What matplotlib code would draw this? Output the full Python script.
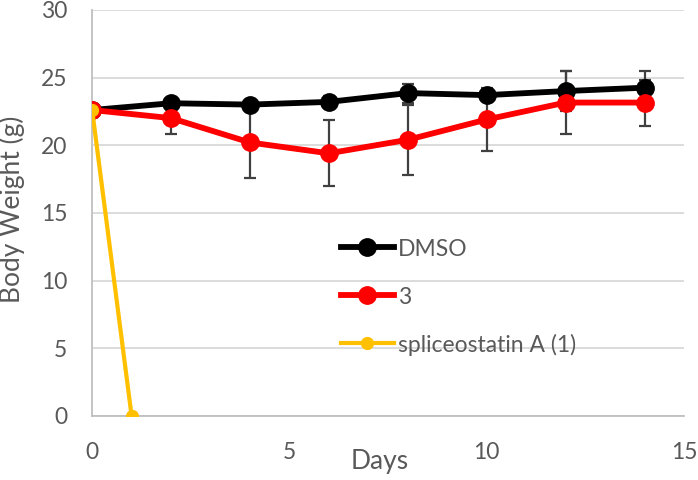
import matplotlib
matplotlib.use("Agg")
import matplotlib.pyplot as plt

days = [0, 2, 4, 6, 8, 10, 12, 14]
dmso = [22.6, 23.1, 23.0, 23.2, 23.85, 23.7, 24.0, 24.25]
dmso_err = [0.0, 0.3, 0.3, 0.4, 0.7, 0.3, 1.45, 1.2]
cmp3 = [22.6, 22.0, 20.2, 19.4, 20.4, 21.9, 23.15, 23.15]
cmp3_err = [0.0, 1.2, 2.6, 2.45, 2.6, 2.3, 2.35, 1.7]
sa_days = [0, 1]
sa = [22.6, 0.0]

labels = ["DMSO", "3", "spliceostatin A (1)"]
xticks = [0, 5, 10, 15]
yticks = [0, 5, 10, 15, 20, 25, 30]

plt.rcParams['font.family'] = ['Lato', 'DejaVu Sans']
txt = '#595959'
grid = '#d9d9d9'

fig = plt.figure(figsize=(6.98, 4.80), dpi=100)
ax = fig.add_axes([0.132, 0.1335, 0.848, 0.846])

ax.errorbar(days, dmso, yerr=dmso_err, fmt='none', ecolor='#404040',
            elinewidth=1.6, capsize=4, capthick=1.6, zorder=2)
ax.errorbar(days, cmp3, yerr=cmp3_err, fmt='none', ecolor='#404040',
            elinewidth=1.6, capsize=4, capthick=1.6, zorder=2)
ax.plot(days, dmso, color='black', lw=4.2, marker='o', ms=12.5, label=labels[0], zorder=3)
ax.plot(days, cmp3, color='#ff0000', lw=4.2, marker='o', ms=12.5, label=labels[1], zorder=4)
ax.plot(sa_days, sa, color='#ffc000', lw=3.0, marker='o', ms=8.5, label=labels[2], zorder=5)

ax.set_xlim(0, 15)
ax.set_ylim(0, 30)
ax.set_xticks(xticks)
ax.set_yticks(yticks)
ax.grid(axis='y', color=grid, lw=1.3, zorder=0)
ax.set_axisbelow(True)
for s in ['top', 'right']:
    ax.spines[s].set_visible(False)
for s in ['left', 'bottom']:
    ax.spines[s].set_color('#bfbfbf')
    ax.spines[s].set_linewidth(1.3)
ax.tick_params(length=0, labelsize=16.5, colors=txt)
ax.tick_params(axis='y', pad=18)
ax.tick_params(axis='x', pad=19)
ax.set_xlabel('Days', fontsize=19, color=txt, labelpad=-10.5)
ax.set_ylabel('Body Weight (g)', fontsize=19, color=txt, labelpad=11)
ax.xaxis.label.set_x(0.486)
ax.yaxis.label.set_y(0.51)

ax.legend(loc='upper left', bbox_to_anchor=(0.405, 0.462), frameon=False,
          fontsize=16.5, labelcolor=txt, labelspacing=1.15, handlelength=2.3,
          handletextpad=0.2, borderaxespad=0, handleheight=1.0)

fig.savefig('out.png', dpi=100)
